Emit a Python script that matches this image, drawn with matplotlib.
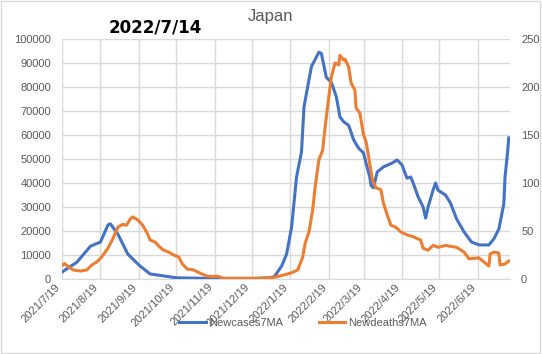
import numpy as np
import pandas as pd
import matplotlib
matplotlib.use('Agg')
import matplotlib.pyplot as plt
import matplotlib.dates as mdates
from matplotlib.patches import Rectangle

# New cases, 7-day moving average (left axis)
case_dates = ['2021-07-19', '2021-07-31', '2021-08-11', '2021-08-19', '2021-08-25',
              '2021-08-27', '2021-09-02', '2021-09-10', '2021-09-19', '2021-09-28',
              '2021-10-10', '2021-10-19', '2021-11-19', '2021-12-19', '2022-01-01',
              '2022-01-06', '2022-01-12', '2022-01-16', '2022-01-20', '2022-01-24',
              '2022-01-28', '2022-01-30', '2022-02-03', '2022-02-05', '2022-02-11',
              '2022-02-13', '2022-02-15', '2022-02-17', '2022-02-21', '2022-02-25',
              '2022-02-28', '2022-03-03', '2022-03-07', '2022-03-11', '2022-03-15',
              '2022-03-19', '2022-03-21', '2022-03-24', '2022-03-25', '2022-03-27',
              '2022-03-30', '2022-04-04', '2022-04-11', '2022-04-15', '2022-04-19',
              '2022-04-23', '2022-04-26', '2022-04-28', '2022-05-02', '2022-05-06',
              '2022-05-08', '2022-05-10', '2022-05-14', '2022-05-16', '2022-05-18',
              '2022-05-24', '2022-05-28', '2022-06-02', '2022-06-08', '2022-06-14',
              '2022-06-20', '2022-06-28', '2022-07-02', '2022-07-06', '2022-07-10',
              '2022-07-11', '2022-07-13', '2022-07-14']
new_cases = [2900, 7000, 13700, 15400, 22500,
             23000, 18700, 10400, 5800, 2100,
             1200, 500, 200, 150, 500,
             900, 5400, 10400, 21600, 42500,
             53000, 71700, 83000, 88500, 94500,
             94000, 89000, 84000, 82000, 76000,
             67500, 65500, 64000, 58000, 54500,
             52500, 48300, 42500, 39000, 38000,
             44600, 46700, 48300, 49600, 47500,
             42000, 42500, 40000, 34200, 30000,
             25400, 30000, 37000, 40000, 37000,
             35000, 31700, 25000, 19600, 15400,
             14200, 14200, 16700, 20800, 31200,
             42500, 52500, 58800]

# New deaths, 7-day moving average (right axis)
death_dates = ['2021-07-19', '2021-07-21', '2021-07-28', '2021-08-03', '2021-08-08',
               '2021-08-12', '2021-08-16', '2021-08-20', '2021-08-25', '2021-08-29',
               '2021-09-02', '2021-09-06', '2021-09-09', '2021-09-12', '2021-09-14',
               '2021-09-18', '2021-09-22', '2021-09-26', '2021-09-28', '2021-10-02',
               '2021-10-06', '2021-10-09', '2021-10-13', '2021-10-17', '2021-10-21',
               '2021-10-24', '2021-10-28', '2021-11-02', '2021-11-07', '2021-11-13',
               '2021-11-18', '2021-11-21', '2021-11-26', '2021-12-27', '2022-01-07',
               '2022-01-19', '2022-01-25', '2022-01-29', '2022-01-31', '2022-02-03',
               '2022-02-06', '2022-02-08', '2022-02-11', '2022-02-14', '2022-02-16',
               '2022-02-19', '2022-02-21', '2022-02-24', '2022-02-27', '2022-02-28',
               '2022-03-03', '2022-03-04', '2022-03-07', '2022-03-09', '2022-03-12',
               '2022-03-13', '2022-03-16', '2022-03-19', '2022-03-21', '2022-03-23',
               '2022-03-26', '2022-03-29', '2022-04-02', '2022-04-04', '2022-04-07',
               '2022-04-10', '2022-04-14', '2022-04-18', '2022-04-23', '2022-04-28',
               '2022-05-04', '2022-05-06', '2022-05-10', '2022-05-14', '2022-05-18',
               '2022-05-24', '2022-05-28', '2022-06-02', '2022-06-08', '2022-06-12',
               '2022-06-20', '2022-06-24', '2022-06-28', '2022-06-29', '2022-07-02',
               '2022-07-06', '2022-07-07', '2022-07-11', '2022-07-14']
new_deaths = [14, 16, 9.4, 8.3, 9.4,
              14.6, 17.7, 23, 32, 42,
              54, 57, 56, 62.5, 64.6,
              61.5, 56, 47, 40.6, 38.5,
              33, 30, 28, 25, 23,
              15.6, 10.4, 9.4, 6.2, 3,
              2.5, 3, 0.8, 0.8, 2,
              6, 9.4, 23, 37.5, 49,
              72, 96, 124, 134, 158,
              190, 210, 225, 223, 233,
              228, 229, 221, 204, 197,
              178, 173, 150, 143, 128,
              104, 95, 93, 79, 67,
              56, 54, 49, 46, 44,
              40.6, 32, 30, 35, 33,
              35, 34, 33, 28, 21,
              22, 17.7, 13.5, 26, 28,
              27, 14.6, 15.6, 18.7]

month_ticks = pd.date_range('2021-07-01', '2022-06-01', freq='MS') + pd.Timedelta(days=18)
tick_color = '#595959'
grid_color = '#D9D9D9'
tick_font = 'Liberation Sans'

fig = plt.figure(figsize=(5.42, 3.54), dpi=100)
ax = fig.add_axes([62 / 542, 75 / 354, 448 / 542, 240 / 354])
ax2 = ax.twinx()

l1, = ax.plot(pd.to_datetime(case_dates), new_cases, color='#4472C4', lw=2.2,
              label='Newcases7MA', zorder=3)
l2, = ax2.plot(pd.to_datetime(death_dates), new_deaths, color='#ED7D31', lw=2.2,
               label='Newdeaths7MA', zorder=3)

ax.set_xlim(pd.Timestamp('2021-07-19'), pd.Timestamp('2022-07-15'))
ax.set_ylim(0, 100000)
ax2.set_ylim(0, 250)
ax.set_yticks(np.arange(0, 100001, 10000))
ax2.set_yticks(np.arange(0, 251, 50))
ax.set_xticks(month_ticks)
ax.xaxis.set_major_formatter(mdates.DateFormatter('%Y/%-m/%-d'))

ax.grid(True, color=grid_color, lw=1)
ax.set_axisbelow(True)
for a in (ax, ax2):
    for s in a.spines.values():
        s.set_visible(False)
    a.tick_params(length=0, colors=tick_color, labelsize=8)
ax.spines['bottom'].set_visible(True)
ax.spines['bottom'].set_color(grid_color)
ax.tick_params(axis='y', pad=8)
ax2.tick_params(axis='y', pad=8)
for lab in ax.get_xticklabels():
    lab.set_rotation(45)
    lab.set_ha('right')
    lab.set_va('top')
for lab in ax.get_xticklabels() + ax.get_yticklabels() + ax2.get_yticklabels():
    lab.set_fontfamily(tick_font)
ax.tick_params(axis='x', pad=2)

fig.text(271 / 542, 1 - 17 / 354, 'Japan', ha='center', va='center',
         fontsize=12, color=tick_color, family=tick_font)
fig.text(155 / 542, 1 - 28 / 354, '2022/7/14', ha='center', va='center',
         fontsize=12, fontweight='bold', color='black', family='DejaVu Sans')

leg = fig.legend(handles=[l1, l2], loc='center', bbox_to_anchor=(303 / 542, 1 - 323 / 354),
                 ncol=2, frameon=False, prop={'family': tick_font, 'size': 8},
                 handlelength=2.4, handletextpad=0.3, columnspacing=3.2, borderpad=0)
for t in leg.get_texts():
    t.set_color(tick_color)

fig.patches.append(Rectangle((0.002, 0.003), 0.995, 0.993, transform=fig.transFigure,
                             fill=False, edgecolor=grid_color, lw=1))

fig.savefig('out.png', dpi=100)
